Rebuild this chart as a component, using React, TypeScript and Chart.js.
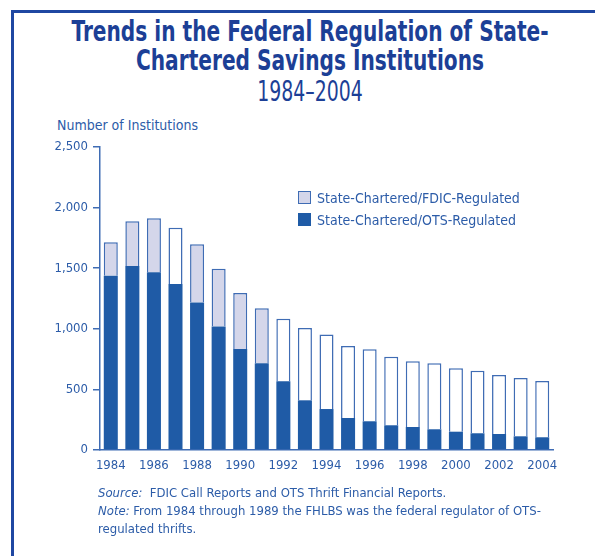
import React, { useEffect, useRef } from "react";
import { Chart, registerables } from "chart.js";

Chart.register(...registerables);

const years = [
  "1984", "1985", "1986", "1987", "1988", "1989", "1990", "1991", "1992", "1993", "1994",
  "1995", "1996", "1997", "1998", "1999", "2000", "2001", "2002", "2003", "2004",
];
const otsRegulated = [
  1438, 1518, 1466, 1370, 1218, 1020, 833, 715, 567, 410, 338,
  264, 237, 204, 190, 171, 151, 138, 132, 113, 105,
];
const fdicRegulated = [
  276, 369, 446, 464, 479, 476, 462, 454, 516, 596, 615,
  594, 594, 566, 542, 544, 523, 516, 487, 481, 464,
];
// years in which the upper segment is drawn unshaded in the original
const unshadedYears = [
  "1987", "1992", "1993", "1994", "1995", "1996", "1997", "1998",
  "1999", "2000", "2001", "2002", "2003", "2004",
];
const yTicks = [0, 500, 1000, 1500, 2000, 2500];
const legendLabels = ["State-Chartered/FDIC-Regulated", "State-Chartered/OTS-Regulated"];

const FONT = "'Liberation Sans Narrow', 'DejaVu Sans Condensed', 'Arial Narrow', sans-serif";
const DARK = "#1f5ba6";
const LAV = "#d4d6ea";
const EDGE = "#3f6cb4";
const TEXT = "#2c5ca8";
const TITLE = "#1c3f96";
const FRAME = "#1f47a2";

export default function App() {
  const ref = useRef<HTMLCanvasElement | null>(null);

  useEffect(() => {
    if (!ref.current) return;
    const chart = new Chart(ref.current, {
      type: "bar",
      data: {
        labels: years,
        datasets: [
          {
            label: legendLabels[1],
            data: otsRegulated,
            backgroundColor: DARK,
            borderWidth: 0,
            barPercentage: 0.65,
            categoryPercentage: 1,
          },
          {
            label: legendLabels[0],
            data: fdicRegulated,
            backgroundColor: years.map((y) => (unshadedYears.includes(y) ? "#ffffff" : LAV)),
            borderColor: EDGE,
            borderWidth: { top: 1.5, left: 1.5, right: 1.5, bottom: 0 },
            barPercentage: 0.65,
            categoryPercentage: 1,
          },
        ],
      },
      options: {
        animation: false,
        responsive: false,
        maintainAspectRatio: false,
        layout: { padding: { top: 17, right: 42, left: 0, bottom: 0 } },
        plugins: {
          legend: { display: false },
          title: { display: false },
          tooltip: { enabled: false },
        },
        scales: {
          x: {
            stacked: true,
            grid: { display: false, drawTicks: false },
            border: { display: true, color: EDGE, width: 1.5 },
            ticks: {
              autoSkip: false,
              maxRotation: 0,
              padding: 8,
              color: TEXT,
              font: { family: FONT, size: 13 },
              callback: (_v: any, i: number) => (i % 2 === 0 ? years[i] : ""),
            },
            afterFit: (s: any) => {
              s.height = 40;
            },
          },
          y: {
            stacked: true,
            min: 0,
            max: 2500,
            afterBuildTicks: (s: any) => {
              s.ticks = yTicks.map((v) => ({ value: v }));
            },
            ticks: {
              padding: 5,
              color: TEXT,
              font: { family: FONT, size: 13 },
              callback: (v: any) => Number(v).toLocaleString("en-US"),
            },
            grid: { drawOnChartArea: false, drawTicks: true, tickLength: 7, color: EDGE, lineWidth: 1.5 },
            border: { display: true, color: EDGE, width: 1.5 },
            afterFit: (s: any) => {
              s.width = 100;
            },
          },
        },
      },
    });
    return () => chart.destroy();
  }, []);

  const abs = (o: React.CSSProperties): React.CSSProperties => ({ position: "absolute", ...o });
  const titleLine = (top: number, size: number, weight: number, sx: number): React.CSSProperties =>
    abs({
      left: 12,
      width: 596,
      top,
      lineHeight: "30px",
      fontSize: size,
      fontWeight: weight,
      color: TITLE,
      textAlign: "center",
      whiteSpace: "nowrap",
      transform: `scaleX(${sx})`,
      transformOrigin: "50% 50%",
    });

  return (
    <div style={abs({ left: 0, top: 0, width: 595, height: 556, overflow: "hidden", background: "#fff", fontFamily: FONT })}>
      <div style={abs({ left: 11, top: 10, width: 800, height: 800, borderTop: `3px solid ${FRAME}`, borderLeft: `3px solid ${FRAME}` })} />
      <div style={titleLine(17, 28, 700, 0.8)}>Trends in the Federal Regulation of State-</div>
      <div style={titleLine(46, 28, 700, 0.8)}>Chartered Savings Institutions</div>
      <div style={titleLine(77, 28, 400, 0.75)}>1984–2004</div>
      <div style={abs({ left: 57, top: 116, lineHeight: "18px", fontSize: 14, color: TEXT, whiteSpace: "nowrap" })}>
        Number of Institutions
      </div>
      <canvas ref={ref} width={595} height={360} style={abs({ left: 0, top: 130, width: 595, height: 360 })} />
      <div style={abs({ left: 298, top: 191, width: 11, height: 11, background: LAV, border: `1.5px solid ${EDGE}` })} />
      <div style={abs({ left: 317, top: 189, lineHeight: "18px", fontSize: 14, color: TEXT, whiteSpace: "nowrap" })}>
        {legendLabels[0]}
      </div>
      <div style={abs({ left: 298, top: 213, width: 13, height: 13, background: DARK })} />
      <div style={abs({ left: 317, top: 211, lineHeight: "18px", fontSize: 14, color: TEXT, whiteSpace: "nowrap" })}>
        {legendLabels[1]}
      </div>
      <div style={abs({ left: 98, top: 484, lineHeight: "18px", fontSize: 13, color: TEXT, whiteSpace: "nowrap" })}>
        <i>Source:</i>&nbsp; FDIC Call Reports and OTS Thrift Financial Reports.
      </div>
      <div style={abs({ left: 98, top: 502, lineHeight: "18px", fontSize: 13, color: TEXT, whiteSpace: "nowrap" })}>
        <i>Note:</i> From 1984 through 1989 the FHLBS was the federal regulator of OTS-
      </div>
      <div style={abs({ left: 98, top: 520, lineHeight: "18px", fontSize: 13, color: TEXT, whiteSpace: "nowrap" })}>
        regulated thrifts.
      </div>
    </div>
  );
}
